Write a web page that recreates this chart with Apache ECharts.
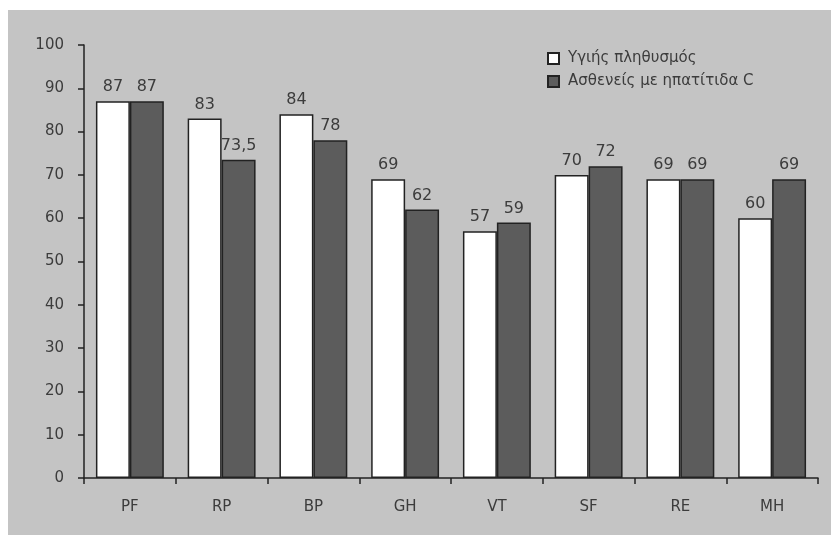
<!DOCTYPE html>
<html>
<head>
<meta charset="utf-8">
<script src="https://cdn.jsdelivr.net/npm/echarts@6/dist/echarts.min.js"></script>
<style>
  html, body { margin: 0; padding: 0; background: #ffffff; }
  #chart { position: absolute; left: 8px; top: 10px; width: 823px; height: 525px; }
</style>
</head>
<body>
<div id="chart"></div>
<script>
// SF-36 domains
const categories = ['PF', 'RP', 'BP', 'GH', 'VT', 'SF', 'RE', 'MH'];
const seriesNames = ['Υγιής πληθυσμός', 'Ασθενείς με ηπατίτιδα C'];
const healthy = [87, 83, 84, 69, 57, 70, 69, 60];
const hepatitisC = [87, 73.5, 78, 62, 59, 72, 69, 69];
const yTicks = [0, 10, 20, 30, 40, 50, 60, 70, 80, 90, 100];

const fontFamily = '"DejaVu Sans", "Noto Sans", sans-serif';
const textColor = '#3c3c3c';

const chart = echarts.init(document.getElementById('chart'));

const labelStyle = {
  show: true,
  position: 'top',
  distance: 6,
  color: textColor,
  fontFamily: fontFamily,
  fontSize: 16,
  formatter: p => String(p.value).replace('.', ',')
};

chart.setOption({
  backgroundColor: '#c4c4c4',
  animation: false,
  grid: { left: 76, right: 13, top: 35, bottom: 57 },
  legend: {
    orient: 'vertical',
    left: 534,
    top: 36,
    itemWidth: 11,
    itemHeight: 11,
    itemGap: 8,
    icon: 'rect',
    textStyle: { color: textColor, fontFamily: fontFamily, fontSize: 15, padding: [0, 0, 0, 4] },
    data: seriesNames
  },
  xAxis: {
    type: 'category',
    data: categories,
    axisLine: { lineStyle: { color: '#222', width: 1.5 } },
    axisTick: { show: true, length: 6, lineStyle: { color: '#222', width: 1.5 } },
    axisLabel: { color: textColor, fontFamily: fontFamily, fontSize: 15, margin: 22 }
  },
  yAxis: {
    type: 'value',
    min: yTicks[0],
    max: yTicks[yTicks.length - 1],
    interval: yTicks[1] - yTicks[0],
    splitLine: { show: false },
    axisLine: { show: true, lineStyle: { color: '#222', width: 1.5 } },
    axisTick: { show: true, length: 6, lineStyle: { color: '#222', width: 1.5 } },
    axisLabel: { color: textColor, fontFamily: fontFamily, fontSize: 15, margin: 20 }
  },
  series: [
    {
      name: seriesNames[0],
      type: 'bar',
      data: healthy,
      barGap: '0%',
      barCategoryGap: '26%',
      itemStyle: { color: '#ffffff', borderColor: '#222', borderWidth: 1.5 },
      label: labelStyle
    },
    {
      name: seriesNames[1],
      type: 'bar',
      data: hepatitisC,
      itemStyle: { color: '#5c5c5c', borderColor: '#222', borderWidth: 1.5 },
      label: labelStyle
    }
  ]
});
</script>
</body>
</html>
